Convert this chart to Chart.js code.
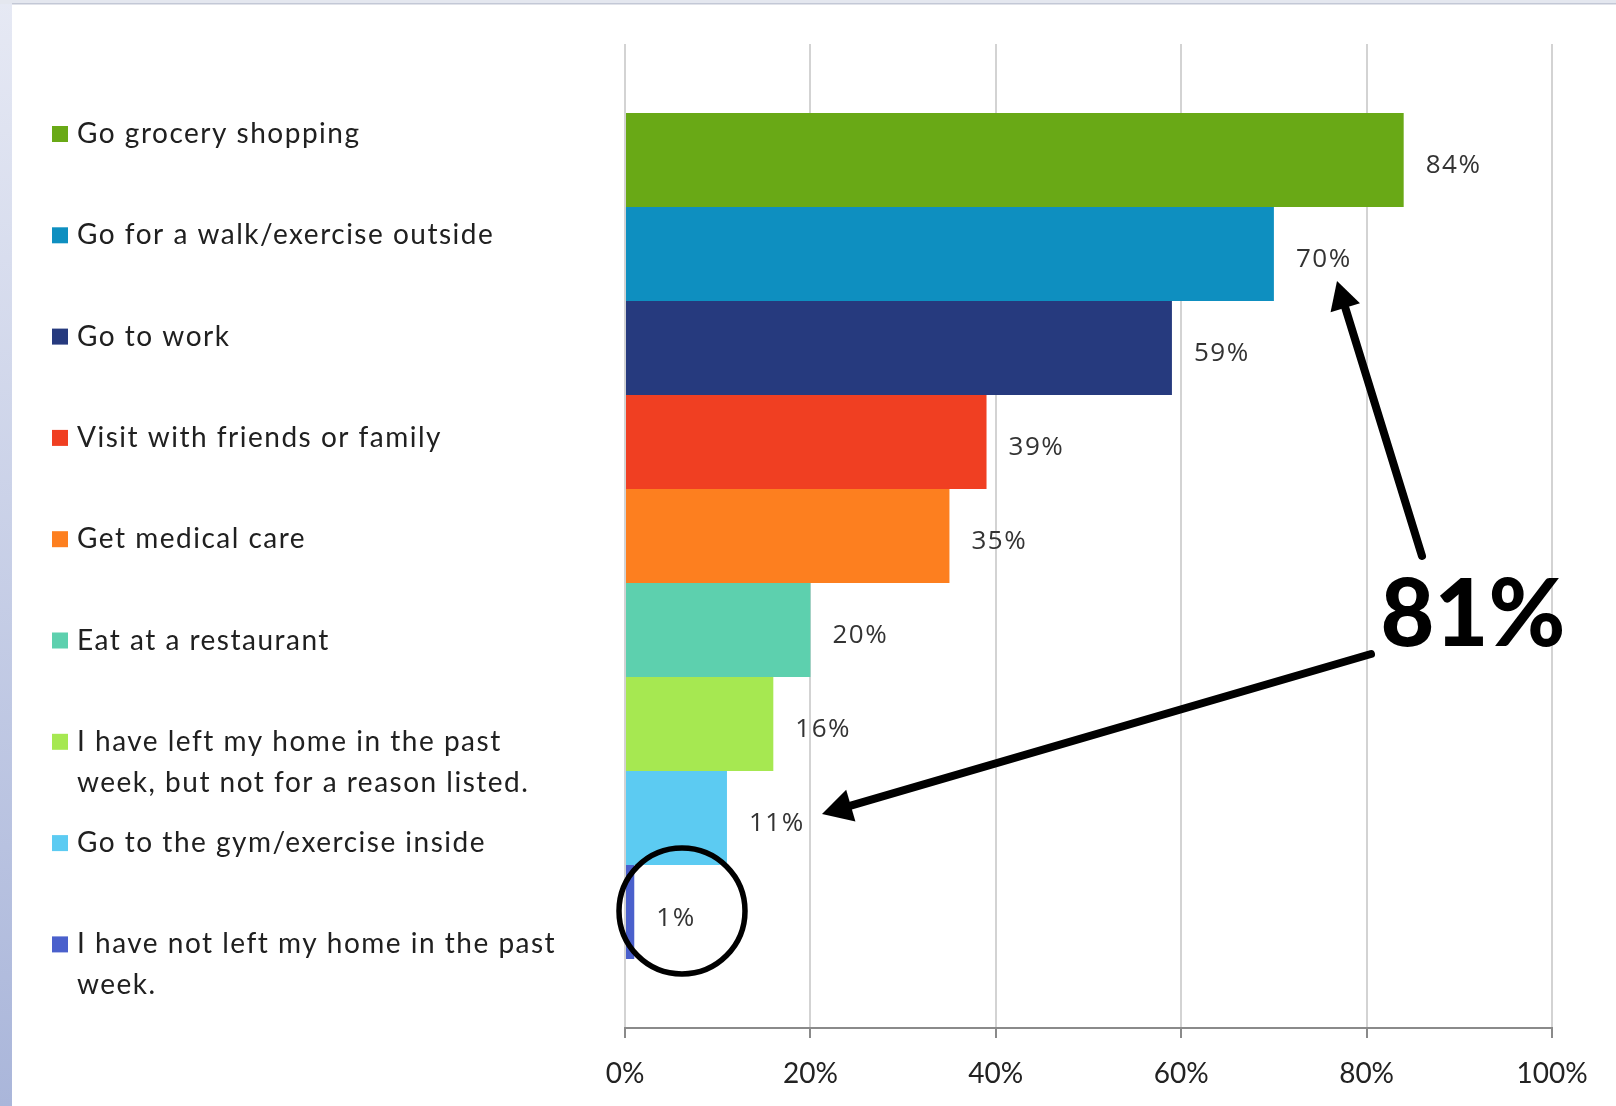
<!DOCTYPE html>
<html>
<head>
<meta charset="utf-8">
<title>Reasons for leaving home</title>
<script src="https://cdn.jsdelivr.net/npm/chart.js@4.4.1/dist/chart.umd.min.js"></script>
<style>
  html, body { margin: 0; padding: 0; background: #fff; overflow: hidden; }
  #wrap { position: relative; width: 1616px; height: 1106px; }
</style>
</head>
<body>
<div id="wrap"><canvas id="chart" width="1616" height="1106"></canvas></div>
<script>
// survey answers, top to bottom
const categories = [
  "Go grocery shopping",
  "Go for a walk/exercise outside",
  "Go to work",
  "Visit with friends or family",
  "Get medical care",
  "Eat at a restaurant",
  "I have left my home in the past\nweek, but not for a reason listed.",
  "Go to the gym/exercise inside",
  "I have not left my home in the past\nweek."
];
const percents = [84, 70, 59, 39, 35, 20, 16, 11, 1];
const colors = ["#69a916", "#0e8fc0", "#263a7e", "#f03f22", "#fd7f1f",
                "#5dd0ae", "#a6e851", "#5ccbf2", "#4a60cc"];
const xTicks = [0, 20, 40, 60, 80, 100];
const callout = "81%";

// page frame: thin top band and blue strip down the left side
const framePlugin = {
  id: "frame",
  beforeDraw(chart) {
    const ctx = chart.ctx;
    ctx.save();
    ctx.fillStyle = "#ffffff";
    ctx.fillRect(0, 0, chart.width, chart.height);
    const g = ctx.createLinearGradient(0, 0, 0, chart.height);
    g.addColorStop(0, "#e6e9f4");
    g.addColorStop(1, "#aab6da");
    ctx.fillStyle = g;
    ctx.fillRect(0, 0, 12, chart.height);
    ctx.fillStyle = "#e4e7ef";
    ctx.fillRect(0, 0, chart.width, 4);
    ctx.fillStyle = "#c3c8d6";
    ctx.fillRect(12, 3, chart.width - 12, 1.5);
    ctx.restore();
  }
};

// legend list on the left
const sideLegend = {
  id: "sideLegend",
  afterDraw(chart) {
    const ctx = chart.ctx;
    ctx.save();
    ctx.font = "28px Lato";
    ctx.letterSpacing = "1.5px";
    ctx.textBaseline = "middle";
    ctx.textAlign = "left";
    chart.data.datasets.forEach((ds, i) => {
      const y = 134 + i * 101.3;
      ctx.fillStyle = ds.backgroundColor;
      ctx.fillRect(52, y - 8, 16, 16);
      ctx.fillStyle = "#202020";
      ds.label.split("\n").forEach((line, j) => {
        ctx.fillText(line, 77, y + j * 41);
      });
    });
    ctx.restore();
  }
};

// value labels just past the end of each bar
const valueLabels = {
  id: "valueLabels",
  afterDatasetsDraw(chart) {
    const ctx = chart.ctx;
    ctx.save();
    ctx.font = "26px 'Open Sans'";
    ctx.letterSpacing = "1.5px";
    ctx.fillStyle = "#333333";
    ctx.textBaseline = "middle";
    ctx.textAlign = "left";
    chart.data.datasets.forEach((ds, i) => {
      const bar = chart.getDatasetMeta(i).data[0];
      ctx.fillText(ds.data[0] + "%", bar.x + 22, bar.y + 6);
    });
    ctx.restore();
  }
};

function arrow(ctx, x1, y1, x2, y2, head) {
  const a = Math.atan2(y2 - y1, x2 - x1);
  const bx = x2 - Math.cos(a) * head;
  const by = y2 - Math.sin(a) * head;
  ctx.beginPath();
  ctx.moveTo(x1, y1);
  ctx.lineTo(bx, by);
  ctx.stroke();
  ctx.beginPath();
  ctx.moveTo(x2, y2);
  ctx.lineTo(bx + Math.cos(a + Math.PI / 2) * head * 0.55, by + Math.sin(a + Math.PI / 2) * head * 0.55);
  ctx.lineTo(bx - Math.cos(a + Math.PI / 2) * head * 0.55, by - Math.sin(a + Math.PI / 2) * head * 0.55);
  ctx.closePath();
  ctx.fill();
}

// hand-drawn style callout: big total, two arrows and a ring round the 1%
const calloutPlugin = {
  id: "callout",
  afterDraw(chart) {
    const ctx = chart.ctx;
    ctx.save();
    ctx.strokeStyle = "#000";
    ctx.fillStyle = "#000";
    ctx.lineWidth = 8;
    ctx.lineCap = "round";
    arrow(ctx, 1422, 556, 1337, 281, 28);
    arrow(ctx, 1371, 654, 822, 814, 30);
    ctx.lineWidth = 5.5;
    ctx.beginPath();
    ctx.arc(682, 911, 63, 0, Math.PI * 2);
    ctx.stroke();
    ctx.font = "900 93px Lato";
    ctx.textAlign = "center";
    ctx.textBaseline = "alphabetic";
    ctx.fillText(callout, 1473, 646);
    ctx.restore();
  }
};

new Chart(document.getElementById("chart"), {
  type: "bar",
  data: {
    labels: [""],
    datasets: categories.map((c, i) => ({
      label: c,
      data: [percents[i]],
      backgroundColor: colors[i],
      borderWidth: 0
    }))
  },
  options: {
    indexAxis: "y",
    responsive: false,
    animation: false,
    devicePixelRatio: 1,
    layout: { padding: { left: 625, right: 64, top: 44, bottom: 18 } },
    datasets: { bar: { categoryPercentage: 0.86, barPercentage: 1 } },
    plugins: { legend: { display: false }, tooltip: { enabled: false } },
    scales: {
      x: {
        min: 0,
        max: 100,
        afterBuildTicks(scale) { scale.ticks = xTicks.map(v => ({ value: v })); },
        afterFit(scale) { scale.height = 60; },
        grid: { color: "#d3d3d3", lineWidth: 2, tickLength: 10, tickColor: "#8a8a8a" },
        border: { color: "#8a8a8a", width: 2 },
        ticks: {
          color: "#222222",
          font: { family: "Lato", size: 28 },
          padding: 19,
          maxRotation: 0,
          callback: v => v + "%"
        }
      },
      y: { display: false }
    }
  },
  plugins: [framePlugin, sideLegend, valueLabels, calloutPlugin]
});
</script>
</body>
</html>
